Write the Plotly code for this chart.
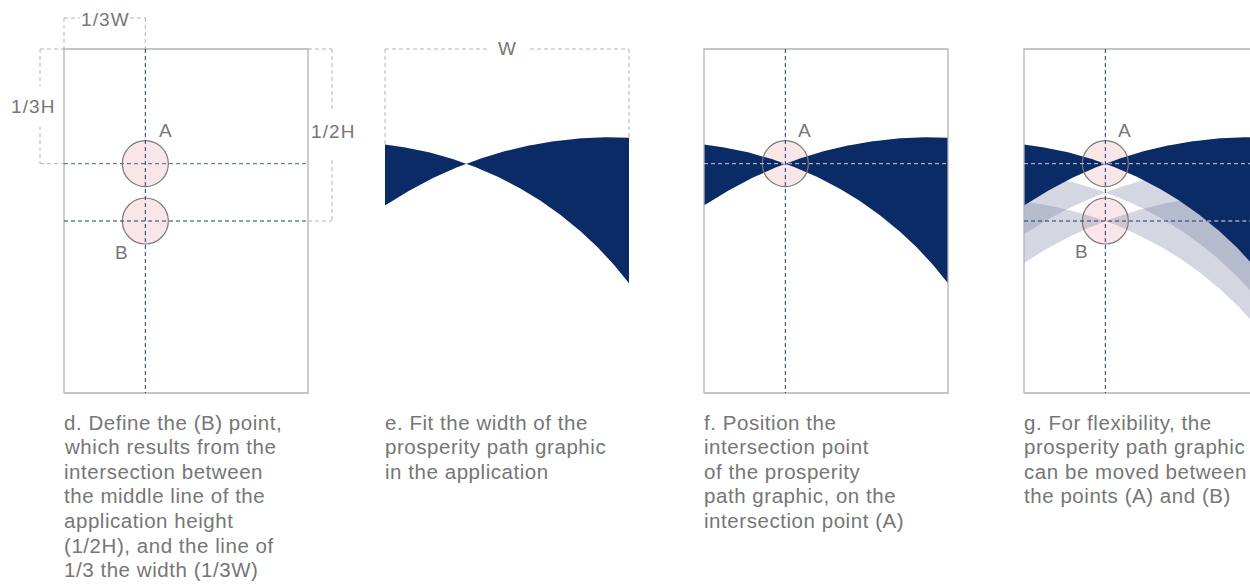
import numpy as np
import plotly.graph_objects as go

# ---- content / data ----
captions = [
    ["d. Define the (B) point,", "which results from the", "intersection between",
     "the middle line of the", "application height", "(1/2H), and the line of",
     "1/3 the width (1/3W)"],
    ["e. Fit the width of the", "prosperity path graphic", "in the application"],
    ["f. Position the", "intersection point", "of the prosperity",
     "path graphic, on the", "intersection point (A)"],
    ["g. For flexibility, the", "prosperity path graphic", "can be moved between",
     "the points (A) and (B)"],
]
point_labels = ["A", "B"]
height_fractions = [1 / 3, 1 / 2]      # A at 1/3H, B at 1/2H
width_fraction = 1 / 3                 # vertical line at 1/3W
dimension_labels = ["1/3W", "1/3H", "1/2H", "W"]
copy_steps = [0.5, 1.0]                # grey copies between A and B (panel g)

# ---- geometry (page pixels) ----
PANEL_LEFT = [64, 385, 704, 1024]
TOP, PW, PH = 49, 244, 344
R_PT = 23
NAVY = "#0b2b66"
GRAY = "#b3b3b3"
DASH_NAVY = "#1d3a6e"
TEXT = "#767676"
FONT = "Liberation Sans, Arial, sans-serif"
DASH = "4px,3px"
CAP_TOP, CAP_STEP = 422, 24.6

# arcs relative to crossing point
ARC1 = (-122.2, 336.6, 358.1)
ARC2 = (144.2, 379.9, 406.3)


def arc_y(xs, cx, cy, arc):
    dx, dy, r = arc
    return (cy + dy) - np.sqrt(r ** 2 - (xs - (cx + dx)) ** 2)


def point(i, k):
    return PANEL_LEFT[i] + PW * width_fraction, TOP + PH * height_fractions[k]


def spaced(s, ls):
    return '<span style="letter-spacing:%spx">%s</span>' % (ls, s)


fig = go.Figure()
shapes = []
annotations = []


def line(x0, y0, x1, y1, color, dash=DASH, width=1, layer="above"):
    shapes.append(dict(type="line", x0=x0, y0=y0, x1=x1, y1=y1, layer=layer,
                       line=dict(color=color, width=width, dash=dash)))


def rect(i):
    shapes.append(dict(type="rect", x0=PANEL_LEFT[i], x1=PANEL_LEFT[i] + PW,
                       y0=TOP, y1=TOP + PH, layer="above",
                       line=dict(color=GRAY, width=1.3), fillcolor="rgba(0,0,0,0)"))


def circle(cx, cy):
    shapes.append(dict(type="circle", x0=cx - R_PT, x1=cx + R_PT, y0=cy - R_PT, y1=cy + R_PT,
                       layer="below", line=dict(width=0), fillcolor="#f9e6e8"))
    shapes.append(dict(type="circle", x0=cx - R_PT, x1=cx + R_PT, y0=cy - R_PT, y1=cy + R_PT,
                       layer="above", line=dict(color="#7a7a7a", width=1.2),
                       fillcolor="rgba(0,0,0,0)"))


def text(x, y, s, size=19, anchor="center", ls=1.1):
    annotations.append(dict(x=x, y=y, text=spaced(s, ls), showarrow=False, xanchor=anchor,
                            yanchor="middle", font=dict(family=FONT, size=size, color=TEXT)))


def bowtie(i, cx, cy, color):
    x0, x1 = PANEL_LEFT[i], PANEL_LEFT[i] + PW
    xs = np.linspace(x0, x1, 240)
    y1 = arc_y(xs, cx, cy, ARC1)
    y2 = arc_y(xs, cx, cy, ARC2)
    fig.add_trace(go.Scatter(x=np.concatenate([xs, xs[::-1]]),
                             y=np.concatenate([y1, y2[::-1]]),
                             fill="toself", fillcolor=color, mode="lines",
                             line=dict(width=0), hoverinfo="skip"))


# ---------- panel d ----------
ax, ay = point(0, 0)
bx, by = point(0, 1)
L = PANEL_LEFT[0]
rect(0)
circle(ax, ay)
circle(bx, by)
line(ax, TOP, ax, TOP + PH, DASH_NAVY)
line(L, ay, L + PW, ay, "#4a6796")
line(L, by, L + PW, by, DASH_NAVY)
# 1/3W bracket
line(L, 18, L, TOP, GRAY)
line(ax, 18, ax, TOP, GRAY)
line(L, 18, 80, 18, GRAY)
line(130, 18, ax, 18, GRAY)
text((L + ax) / 2 + 1, 19, dimension_labels[0])
# 1/3H bracket
line(40, TOP, L, TOP, GRAY)
line(40, ay, L, ay, GRAY)
line(40, TOP, 40, 86, GRAY)
line(40, 126, 40, ay, GRAY)
text(33, 106, dimension_labels[1])
# 1/2H bracket
line(L + PW, TOP, 332, TOP, GRAY)
line(L + PW, by, 332, by, GRAY)
line(332, TOP, 332, 111, GRAY)
line(332, 160, 332, by, GRAY)
text(333, 131, dimension_labels[2])
text(ax + 21, 130, point_labels[0])
text(bx - 23, 252, point_labels[1])

# ---------- panel e ----------
L = PANEL_LEFT[1]
ex, ey = point(1, 0)
bowtie(1, ex, ey, NAVY)
yl = arc_y(np.array([L]), ex, ey, ARC1)[0]
yr = arc_y(np.array([L + PW]), ex, ey, ARC2)[0]
line(L, TOP, L, yl, GRAY)
line(L + PW, TOP, L + PW, yr, GRAY)
line(L, TOP, 488, TOP, GRAY)
line(530, TOP, L + PW, TOP, GRAY)
text(507, 48, dimension_labels[3])

# ---------- panel f ----------
L = PANEL_LEFT[2]
fx, fy = point(2, 0)
rect(2)
circle(fx, fy)
bowtie(2, fx, fy, NAVY)
line(fx, TOP, fx, TOP + PH, DASH_NAVY)
line(L, fy, L + PW, fy, "#c9cdd8")
text(fx + 20, 130, point_labels[0])

# ---------- panel g ----------
L = PANEL_LEFT[3]
gax, gay = point(3, 0)
gbx, gby = point(3, 1)
rect(3)
circle(gax, gay)
circle(gbx, gby)
for s in copy_steps:
    bowtie(3, gax, gay + s * (gby - gay), "rgba(100,110,150,0.28)")
bowtie(3, gax, gay, NAVY)
line(gax, TOP, gax, TOP + PH, DASH_NAVY)
line(L, gay, L + PW, gay, "#c9cdd8")
# where B line enters navy path
dx, dy, r = ARC1
xcut = (gax + dx) + np.sqrt(r ** 2 - (gby - (gay + dy)) ** 2)
line(L, gby, xcut, gby, DASH_NAVY)
line(xcut, gby, L + PW, gby, "#e6e8ee")
text(gax + 20, 130, point_labels[0])
text(gbx - 23, 251, point_labels[1])

# ---------- captions (one annotation per line) ----------
for i, c in enumerate(captions):
    for k, s in enumerate(c):
        text(PANEL_LEFT[i] - 2, CAP_TOP + k * CAP_STEP, s, size=20.5, anchor="left", ls=0.55)

fig.update_layout(
    width=1250, height=586, margin=dict(l=0, r=0, t=0, b=0),
    paper_bgcolor="white", plot_bgcolor="white", showlegend=False,
    xaxis=dict(range=[0, 1250], visible=False, fixedrange=True),
    yaxis=dict(range=[586, 0], visible=False, fixedrange=True),
    shapes=shapes, annotations=annotations,
)
fig.write_html("out.html", config={"displayModeBar": False},
               post_script="document.body.style.margin='0px';")
